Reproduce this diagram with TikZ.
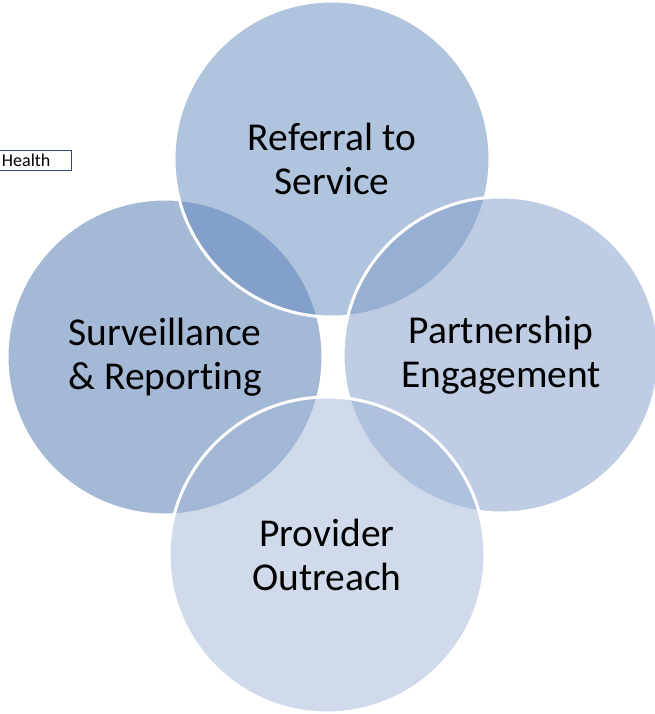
\documentclass[tikz,border=0pt]{standalone}
\usepackage{fontspec}
\setmainfont{Carlito}[Ligatures=NoCommon]
\definecolor{survcol}{RGB}{73,115,173}
\definecolor{refcol}{RGB}{97,137,189}
\definecolor{partcol}{RGB}{125,155,201}
\definecolor{provcol}{RGB}{161,181,213}
\definecolor{boxcol}{RGB}{47,75,125}
\begin{document}
\begin{tikzpicture}[x=1pt,y=-1pt,
    venn/.style={circle, minimum size=316pt, inner sep=0pt, draw=white, line width=3pt,
      fill opacity=0.5, text opacity=1, align=center,
      font=\fontsize{39.5}{44}\selectfont},
    healthbox/.style={draw=boxcol, line width=1.2pt, fill=white, minimum height=20pt,
      inner ysep=0pt, inner xsep=21pt, font=\fontsize{18}{19}\selectfont}]
  \useasboundingbox (0,0) rectangle (654,714);
  \node[healthbox, anchor=east] (health) at (72,160.5) {Health};
  % four overlapping circles
  \node[venn, fill=survcol] (surv) at (165,357) {Surveillance\\\& Reporting};
  \node[venn, fill=refcol] (refer) at (332,159) {Referral to\\Service};
  \node[venn, fill=partcol] (part) at (501,355) {Partnership\\Engagement};
  \node[venn, fill=provcol] (prov) at (327,555) {Provider\\Outreach};
\end{tikzpicture}
\end{document}
